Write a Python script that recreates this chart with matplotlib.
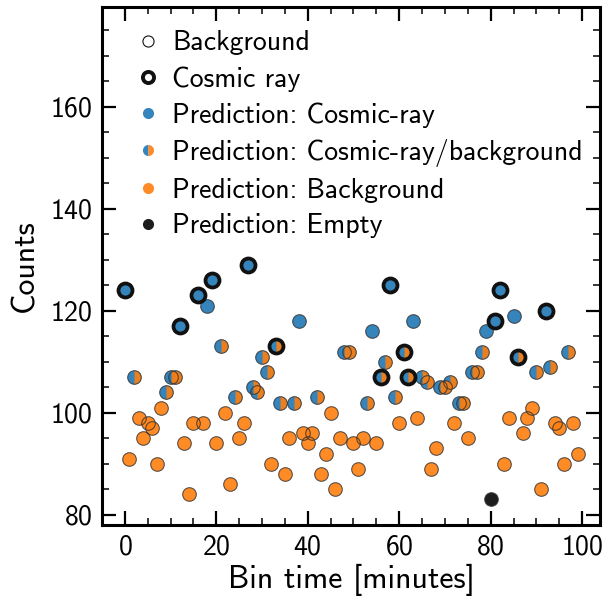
import numpy as np
import matplotlib.pyplot as plt
from matplotlib.lines import Line2D
from matplotlib.ticker import MultipleLocator

plt.rcParams["font.family"] = "cmss10"
plt.rcParams["axes.formatter.use_mathtext"] = True

# one bin per minute
minutes = np.arange(100)
counts = [124, 91, 107, 99, 95, 98, 97, 90, 101, 104,
          107, 107, 117, 94, 84, 98, 123, 98, 121, 126,
          94, 113, 100, 86, 103, 95, 98, 129, 105, 104,
          111, 108, 90, 113, 102, 88, 95, 102, 118, 96,
          94, 96, 103, 88, 92, 100, 85, 95, 112, 112,
          94, 89, 95, 102, 116, 94, 107, 110, 125, 103,
          98, 112, 107, 118, 99, 107, 106, 89, 93, 105,
          105, 106, 98, 102, 102, 95, 108, 108, 112, 116,
          83, 118, 124, 90, 99, 119, 111, 96, 99, 101,
          108, 85, 120, 109, 98, 97, 90, 112, 98, 92]
# bins that really hold a cosmic ray
cosmic_bins = [0, 12, 16, 19, 27, 33, 56, 58, 61, 62, 81, 82, 86, 92]
# prediction: c = cosmic-ray, h = cosmic-ray/background, b = background, e = empty
pred = list("cbhbbbbbbh" "hhcbbbcbcc" "bhbbhbbchh" "hhbhhbbhcb" "bbhbbbbbhh"
            "bbbhcbhhch" "bhhcbhhbbh" "hhbhhbhhhc" "eccbbchbbb" "hbchbbbhbb")

blue = "#1f77b4"
orange = "#ff7f0e"
black = "#111111"

counts = np.array(counts)
pred = np.array(pred)
is_cr = np.isin(minutes, cosmic_bins)

fig = plt.figure(figsize=(6.05, 6.02), dpi=100)
ax = fig.add_axes([0.169, 0.128, 0.823, 0.860])

ms = 9.8
al = 0.9
m = pred == "c"
ax.plot(minutes[m], counts[m], "o", ms=ms, mfc=blue, mew=0, alpha=al, ls="none")
m = pred == "h"
ax.plot(minutes[m], counts[m], "o", ms=ms, mfc=blue, mew=0, alpha=al, ls="none")
ax.plot(minutes[m], counts[m], "o", ms=ms, fillstyle="right", mfc=orange,
        mfcalt="none", mew=0, alpha=al, ls="none")
m = pred == "b"
ax.plot(minutes[m], counts[m], "o", ms=ms, mfc=orange, mew=0, alpha=al, ls="none")
m = pred == "e"
ax.plot(minutes[m], counts[m], "o", ms=ms, mfc=black, mew=0, alpha=0.95, ls="none")

# true labels as rings
ax.plot(minutes[~is_cr], counts[~is_cr], "o", ms=ms, mfc="none", mec="#333333",
        mew=0.8, alpha=0.8, ls="none")
ax.plot(minutes[is_cr], counts[is_cr], "o", ms=ms + 0.3, mfc="none", mec=black,
        mew=2.7, ls="none")

ax.set_ylim(78, 179.5)
ax.xaxis.set_major_locator(MultipleLocator(20))
ax.xaxis.set_minor_locator(MultipleLocator(5))
ax.yaxis.set_major_locator(MultipleLocator(20))
ax.yaxis.set_minor_locator(MultipleLocator(5))
ax.tick_params(which="both", direction="in", top=True, right=True, labelsize=20)
ax.tick_params(which="major", length=10, width=1.6, pad=7)
ax.tick_params(which="minor", length=5, width=1.1)
for sp in ax.spines.values():
    sp.set_linewidth(2.2)

ax.set_xlabel("Bin time [minutes]", fontsize=23, labelpad=3)
ax.set_ylabel("Counts", fontsize=23, labelpad=8)

handles = [
    Line2D([], [], ls="none", marker="o", ms=8, mfc="none", mec=black, mew=0.8),
    Line2D([], [], ls="none", marker="o", ms=8, mfc="none", mec=black, mew=2.8),
    Line2D([], [], ls="none", marker="o", ms=8, mfc=blue, mew=0, alpha=al),
    Line2D([], [], ls="none", marker="o", ms=8, fillstyle="left", mfc=blue,
           mfcalt=orange, mew=0, alpha=al),
    Line2D([], [], ls="none", marker="o", ms=8, mfc=orange, mew=0, alpha=al),
    Line2D([], [], ls="none", marker="o", ms=8, mfc=black, mew=0, alpha=0.95),
]
labels = ["Background", "Cosmic ray", "Prediction: Cosmic-ray",
          "Prediction: Cosmic-ray/background", "Prediction: Background",
          "Prediction: Empty"]
ax.legend(handles, labels, loc="upper left", bbox_to_anchor=(0.048, 0.977),
          frameon=False, fontsize=20, handlelength=0.8, handletextpad=0.45,
          labelspacing=0.39, borderaxespad=0)

fig.savefig("out.png", dpi=100)
